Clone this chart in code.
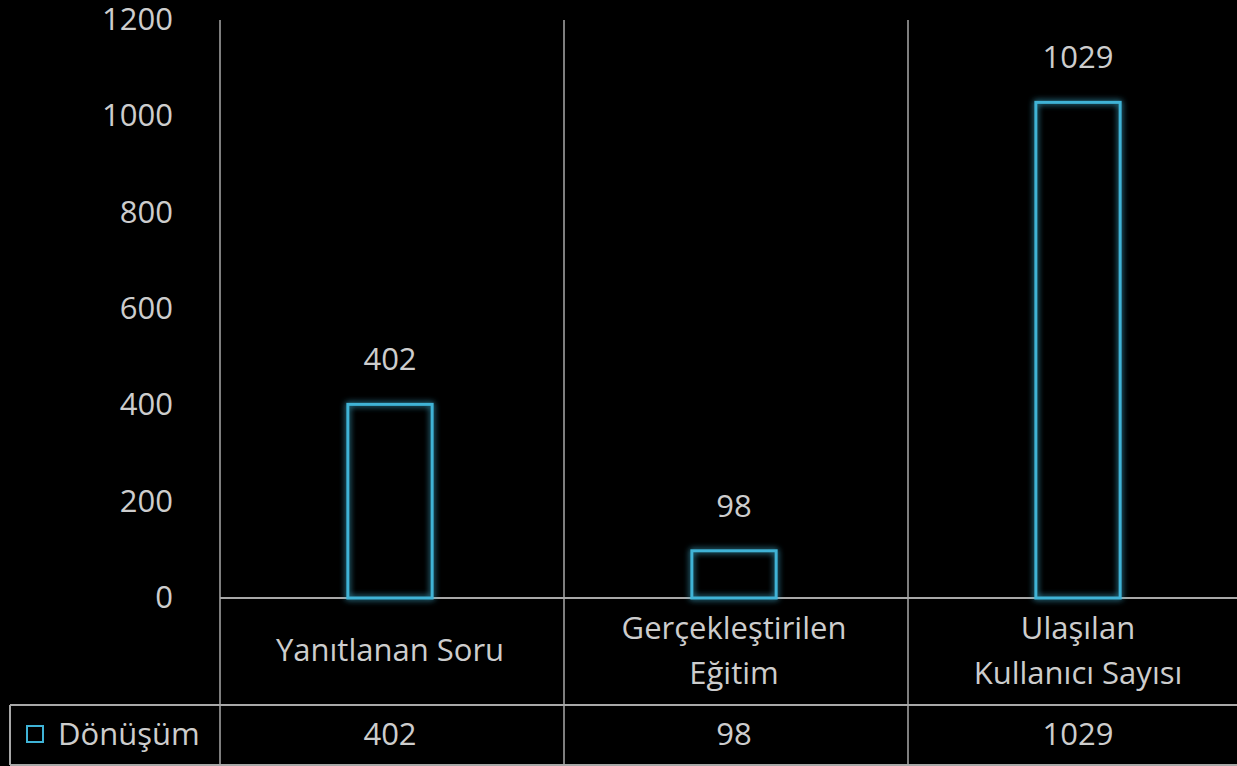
<!DOCTYPE html>
<html>
<head>
<meta charset="utf-8">
<script src="https://cdn.jsdelivr.net/npm/d3@7"></script>
<style>
  html, body { margin: 0; padding: 0; background: #000; }
  svg { display: block; }
  text { font-family: 'Open Sans', 'DejaVu Sans', sans-serif; fill: #cdcdcd; }
</style>
</head>
<body>
<div id="chart"></div>
<script>
const categories = [['Yanıtlanan Soru'], ['Gerçekleştirilen', 'Eğitim'], ['Ulaşılan', 'Kullanıcı Sayısı']]
const values = [402, 98, 1029]
const seriesName = 'Dönüşüm'
const yTicks = [0, 200, 400, 600, 800, 1000, 1200]

const width = 1237
const height = 766
const plotLeft = 220
const plotRight = 1252
const plotTop = 20
const plotBottom = 598
const rowLine = 705
const tableBottom = 765
const gridColor = '#a8a8a8'
const barColor = '#3fb3d6'
const fontSize = '31px'

const svg = d3
  .select('#chart')
  .append('svg')
  .attr('width', width)
  .attr('height', height)

svg.append('rect').attr('width', width).attr('height', height).attr('fill', '#000')

// glow for the bar outlines
const defs = svg.append('defs')
const glow = defs.append('filter').attr('id', 'glow').attr('x', '-30%').attr('y', '-30%').attr('width', '160%').attr('height', '160%')
glow.append('feGaussianBlur').attr('stdDeviation', 3).attr('result', 'blur')
const merge = glow.append('feMerge')
merge.append('feMergeNode').attr('in', 'blur')
merge.append('feMergeNode').attr('in', 'SourceGraphic')

const x = d3
  .scaleBand()
  .domain(d3.range(values.length))
  .range([plotLeft, plotRight])

const y = d3
  .scaleLinear()
  .domain([0, 1200])
  .range([plotBottom, plotTop])

// y tick labels
svg
  .selectAll('.y-label')
  .data(yTicks)
  .enter()
  .append('text')
  .attr('class', 'y-label')
  .attr('x', 173)
  .attr('y', d => y(d))
  .attr('dy', '0.32em')
  .attr('text-anchor', 'end')
  .style('font-size', fontSize)
  .text(d => d)

// vertical separators
svg
  .selectAll('.sep')
  .data(d3.range(values.length))
  .enter()
  .append('line')
  .attr('class', 'sep')
  .attr('x1', d => x(d))
  .attr('x2', d => x(d))
  .attr('y1', plotTop)
  .attr('y2', tableBottom)
  .attr('stroke', gridColor)
  .attr('stroke-width', 1.5)

// axis line and table lines
svg.append('line')
  .attr('x1', plotLeft).attr('x2', width)
  .attr('y1', y(0)).attr('y2', y(0))
  .attr('stroke', gridColor).attr('stroke-width', 2)
svg.append('line')
  .attr('x1', 10).attr('x2', width)
  .attr('y1', rowLine).attr('y2', rowLine)
  .attr('stroke', gridColor).attr('stroke-width', 2)
svg.append('line')
  .attr('x1', 10).attr('x2', width)
  .attr('y1', tableBottom).attr('y2', tableBottom)
  .attr('stroke', gridColor).attr('stroke-width', 2)
svg.append('line')
  .attr('x1', 10).attr('x2', 10)
  .attr('y1', rowLine).attr('y2', tableBottom)
  .attr('stroke', gridColor).attr('stroke-width', 2)

// bars
const barW = x.bandwidth() * 0.245
svg
  .selectAll('.bar')
  .data(values)
  .enter()
  .append('rect')
  .attr('class', 'bar')
  .attr('x', (d, i) => x(i) + x.bandwidth() / 2 - barW / 2 - 2)
  .attr('y', d => y(d))
  .attr('width', barW)
  .attr('height', d => y(0) - y(d))
  .attr('fill', 'none')
  .attr('stroke', barColor)
  .attr('stroke-width', 3)
  .attr('filter', 'url(#glow)')

// value labels above bars
svg
  .selectAll('.value-label')
  .data(values)
  .enter()
  .append('text')
  .attr('class', 'value-label')
  .attr('x', (d, i) => x(i) + x.bandwidth() / 2 - 2)
  .attr('y', d => y(d) - 44)
  .attr('dy', '0.32em')
  .attr('text-anchor', 'middle')
  .style('font-size', fontSize)
  .text(d => d)

// category labels
const catLabels = svg
  .selectAll('.cat-label')
  .data(categories)
  .enter()
  .append('text')
  .attr('class', 'cat-label')
  .attr('text-anchor', 'middle')
  .style('font-size', fontSize)
  .attr('transform', (d, i) => `translate(${x(i) + x.bandwidth() / 2 - 2},${(y(0) + rowLine) / 2 - 1})`)

catLabels
  .selectAll('tspan')
  .data(d => d.map((t, j) => ({ t, j, n: d.length })))
  .enter()
  .append('tspan')
  .attr('x', 0)
  .attr('y', d => (d.j - (d.n - 1) / 2) * 45)
  .attr('dy', '0.35em')
  .text(d => d.t)

// table row: legend key + values
const rowMid = (rowLine + tableBottom) / 2
svg.append('rect')
  .attr('x', 27).attr('y', rowMid - 9)
  .attr('width', 16).attr('height', 16)
  .attr('fill', 'none')
  .attr('stroke', barColor)
  .attr('stroke-width', 2)
svg.append('text')
  .attr('x', 58).attr('y', rowMid)
  .attr('dy', '0.32em')
  .style('font-size', fontSize)
  .text(seriesName)

svg
  .selectAll('.table-value')
  .data(values)
  .enter()
  .append('text')
  .attr('class', 'table-value')
  .attr('x', (d, i) => x(i) + x.bandwidth() / 2 - 2)
  .attr('y', rowMid)
  .attr('dy', '0.32em')
  .attr('text-anchor', 'middle')
  .style('font-size', fontSize)
  .text(d => d)
</script>
</body>
</html>
